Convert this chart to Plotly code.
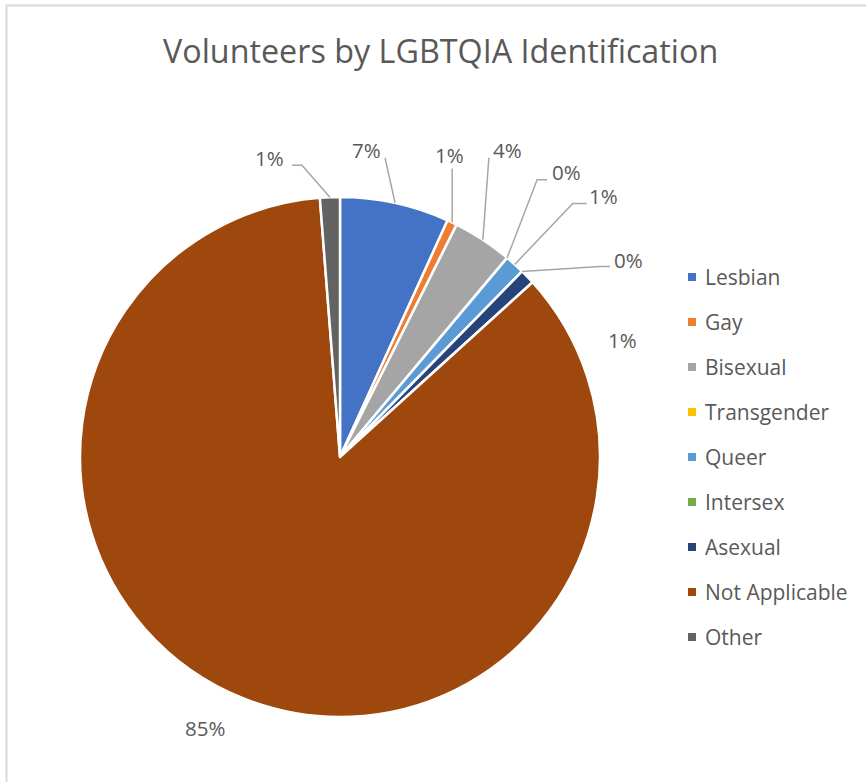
import math
import plotly.graph_objects as go

W, H = 866, 782

categories = ["Lesbian", "Gay", "Bisexual", "Transgender", "Queer",
              "Intersex", "Asexual", "Not Applicable", "Other"]
volunteers = [22, 2, 12, 0, 4, 0, 3, 277, 4]
colors = ["#4472C4", "#ED7D31", "#A5A5A5", "#FFC000", "#5B9BD5",
          "#70AD47", "#264478", "#9E480E", "#636363"]

# label centre relative to the slice's outer-edge midpoint (px, y down)
label_offsets = [(-29, -53), (-3, -67), (25, -90), (59, -86), (89, -68),
                 (106, -11), (95, 63), (-39, 29), (-60, -39)]
# leader line end / elbow relative to the label centre; None = no leader
leaders = [(19, 8, 19), (3, 13, 3), (-19, 8, -19), (-19, 8, -29), (-17, 7, -31),
           (-18, 6, -28), None, None, (22, 7, 32)]

FONT = "Open Sans"
TEXT = "#595959"

# pie placement in pixels
CX, CY, R = 340, 457, 260


def px(x):
    return x / W


def py(y):
    return 1 - y / H


fig = go.Figure(go.Pie(
    labels=categories,
    values=volunteers,
    sort=False,
    direction="clockwise",
    rotation=0,
    marker=dict(colors=colors, line=dict(color="white", width=2.5)),
    textinfo="none",
    hoverinfo="label+value+percent",
    showlegend=False,
    domain=dict(x=[px(CX - R), px(CX + R)], y=[py(CY + R), py(CY - R)]),
))

total = sum(volunteers)
annotations = []
shapes = []

# data labels with leader lines
cum = 0
for i, v in enumerate(volunteers):
    mid = (cum + v / 2) / total * 2 * math.pi
    cum += v
    ax = CX + R * math.sin(mid)
    ay = CY - R * math.cos(mid)
    dx, dy = label_offsets[i]
    lx, ly = ax + dx, ay + dy
    pct = int(v / total * 100 + 0.5)
    annotations.append(dict(
        x=px(lx), y=py(ly), xref="paper", yref="paper",
        text=f"{pct}%", showarrow=False, xanchor="center", yanchor="middle",
        font=dict(family=FONT, size=20.5, color=TEXT),
    ))
    if leaders[i] is not None:
        ex, ey, bx = leaders[i]
        path = (f"M {px(ax)},{py(ay)} L {px(lx + bx)},{py(ly + ey)} "
                f"L {px(lx + ex)},{py(ly + ey)}")
        shapes.append(dict(type="path", xref="paper", yref="paper", path=path,
                           line=dict(color="#A6A6A6", width=1.5)))

# legend
LEG_X, LEG_Y0, LEG_STEP, SQ = 692, 277, 45, 8
for i, name in enumerate(categories):
    y = LEG_Y0 + i * LEG_STEP
    shapes.append(dict(type="rect", xref="paper", yref="paper",
                       x0=px(LEG_X - SQ / 2), x1=px(LEG_X + SQ / 2),
                       y0=py(y + SQ / 2), y1=py(y - SQ / 2),
                       fillcolor=colors[i], line=dict(width=0)))
    annotations.append(dict(
        x=px(LEG_X + 11), y=py(y), xref="paper", yref="paper",
        text=name, showarrow=False, xanchor="left", yanchor="middle",
        font=dict(family=FONT, size=21, color=TEXT),
    ))

# chart area border (top and left edges)
shapes.append(dict(type="path", xref="paper", yref="paper",
                   path=f"M {px(6.5)},{py(H)} L {px(6.5)},{py(5.5)} L {px(W)},{py(5.5)}",
                   line=dict(color="#D9D9D9", width=2)))

annotations.append(dict(
    x=px(440), y=py(50), xref="paper", yref="paper",
    text="Volunteers by LGBTQIA Identification", showarrow=False,
    xanchor="center", yanchor="middle",
    font=dict(family=FONT, size=32.3, color=TEXT),
))

fig.update_layout(
    width=W, height=H,
    margin=dict(l=0, r=0, t=0, b=0),
    paper_bgcolor="white",
    plot_bgcolor="white",
    annotations=annotations,
    shapes=shapes,
)

fig.write_html("out.html")
